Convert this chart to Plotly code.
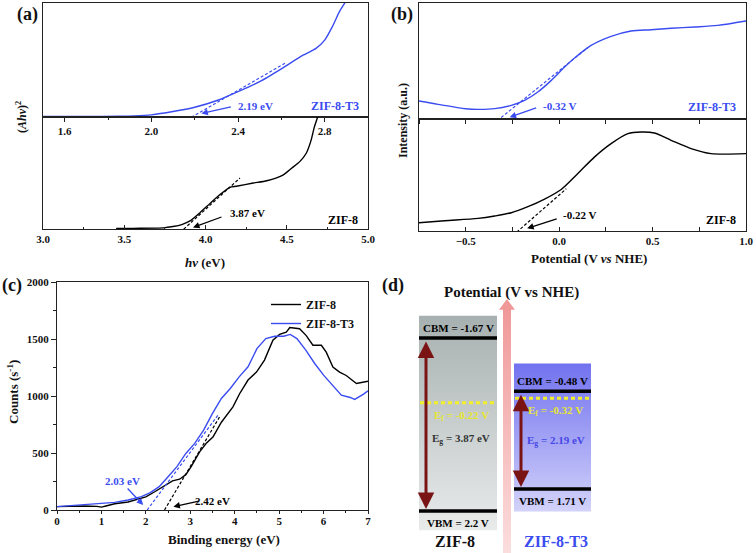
import plotly.graph_objects as go

# ---------------- data ----------------
# (a) Tauc plots (normalised (Ahv)^2)
a_t3_hv = [1.50, 1.70, 1.85, 1.92, 2.00, 2.10, 2.20, 2.31, 2.40, 2.50, 2.60, 2.70, 2.76, 2.80, 2.835, 2.87, 2.91]
a_t3_val = [0.0, 0.0, 0.003, 0.006, 0.015, 0.044, 0.082, 0.146, 0.219, 0.307, 0.42, 0.54, 0.60, 0.673, 0.79, 0.93, 1.05]
a_z8_hv = [3.45, 3.556, 3.74, 3.80, 3.854, 3.905, 3.966, 4.028, 4.089, 4.151, 4.19, 4.294, 4.377, 4.479, 4.53, 4.58, 4.62, 4.65, 4.67, 4.69, 4.70]
a_z8_val = [0.0, 0.002, 0.006, 0.018, 0.036, 0.068, 0.142, 0.225, 0.305, 0.37, 0.379, 0.408, 0.429, 0.482, 0.541, 0.6, 0.675, 0.793, 0.911, 1.0, 1.05]
a_t3_eg, a_t3_slope, a_t3_span = 2.19, 1.1, [2.165, 2.62]
a_z8_eg, a_z8_slope, a_z8_span = 3.87, 1.325, [3.843, 4.212]

# (b) Mott-Schottky-like curves (normalised intensity)
b_t3_v = [-0.752, -0.648, -0.5, -0.434, -0.345, -0.256, -0.185, -0.114, -0.042, 0.029, 0.100, 0.171, 0.278, 0.385, 0.492, 0.599, 0.724, 0.849, 1.0]
b_t3_val = [0.155, 0.126, 0.089, 0.083, 0.089, 0.118, 0.161, 0.233, 0.333, 0.448, 0.549, 0.635, 0.713, 0.759, 0.770, 0.782, 0.793, 0.807, 0.845]
b_z8_v = [-0.752, -0.613, -0.434, -0.345, -0.256, -0.167, -0.078, 0.011, 0.100, 0.190, 0.278, 0.368, 0.439, 0.510, 0.599, 0.706, 0.813, 1.0]
b_z8_val = [0.074, 0.092, 0.113, 0.134, 0.163, 0.217, 0.285, 0.371, 0.513, 0.662, 0.780, 0.869, 0.884, 0.875, 0.810, 0.736, 0.691, 0.691]
b_t3_ef, b_t3_slope, b_t3_span = -0.32, 1.30, [-0.331, 0.154]
b_z8_ef, b_z8_slope, b_z8_span = -0.22, 1.46, [-0.247, 0.038]

# (c) VB-XPS
c_z8_be = [0, 0.3, 0.6, 0.9, 1.0, 1.1, 1.3, 1.6, 1.8, 2.0, 2.2, 2.46, 2.6, 2.76, 2.9, 3.02, 3.21, 3.36, 3.51, 3.7, 3.96, 4.11, 4.3, 4.49, 4.67, 4.86, 5.01, 5.16, 5.24, 5.46, 5.61, 5.76, 5.95, 6.06, 6.21, 6.36, 6.51, 6.74, 6.89, 7.0]
c_z8_cnt = [30, 33, 35, 32, 25, 35, 55, 70, 90, 115, 160, 220, 255, 270, 310, 380, 510, 585, 640, 770, 905, 1020, 1140, 1210, 1315, 1490, 1540, 1560, 1600, 1590, 1530, 1445, 1445, 1385, 1255, 1210, 1180, 1110, 1125, 1130]
c_t3_be = [0, 0.5, 1.0, 1.3, 1.6, 1.9, 2.1, 2.3, 2.5, 2.7, 2.9, 3.1, 3.3, 3.5, 3.7, 3.9, 4.1, 4.3, 4.5, 4.7, 4.9, 5.1, 5.25, 5.4, 5.6, 5.8, 6.0, 6.2, 6.4, 6.6, 6.7, 6.9, 7.0]
c_t3_cnt = [30, 45, 58, 67, 88, 117, 152, 205, 292, 380, 496, 584, 700, 847, 978, 1066, 1168, 1256, 1416, 1504, 1524, 1524, 1540, 1504, 1402, 1285, 1183, 1095, 1007, 987, 970, 1016, 1045]
c_t3_onset, c_t3_slope, c_t3_span = 2.03, 522, [2.03, 3.62]
c_z8_onset, c_z8_slope, c_z8_span = 2.42, 659, [2.42, 3.66]

# (d) band structure (V vs NHE)
d_names = ["ZIF-8", "ZIF-8-T3"]
d_cbm = [-1.67, -0.48]
d_vbm = [2.2, 1.71]
d_ef = [-0.22, -0.32]
d_eg = [3.87, 2.19]

BLUE = "#3a4cf0"
FONT = "Liberation Serif"
W, H = 756, 553


def px(x):
    return x / W


def py(y):
    return 1 - y / H


def line_fit(x0, slope, span):
    return span, [slope * (s - x0) for s in span]


def ptext(x, y, text, size, angle=0, color="#111111"):
    return dict(x=px(x), y=py(y), xref="paper", yref="paper", xanchor="center", yanchor="middle",
                showarrow=False, textangle=angle, text=text, font=dict(size=size, color=color))


fig = go.Figure()

# (a)
fig.add_trace(go.Scatter(x=a_t3_hv, y=a_t3_val, mode="lines", line=dict(color=BLUE, width=1.4, shape="spline", smoothing=0.6),
                         xaxis="x", yaxis="y", showlegend=False))
fx, fy = line_fit(a_t3_eg, a_t3_slope, a_t3_span)
fig.add_trace(go.Scatter(x=fx, y=fy, mode="lines", line=dict(color=BLUE, width=1.2, dash="3px,2px"), xaxis="x", yaxis="y", showlegend=False))
fig.add_trace(go.Scatter(x=a_z8_hv, y=a_z8_val, mode="lines", line=dict(color="black", width=1.4, shape="spline", smoothing=0.6),
                         xaxis="x2", yaxis="y2", showlegend=False))
fx, fy = line_fit(a_z8_eg, a_z8_slope, a_z8_span)
fig.add_trace(go.Scatter(x=fx, y=fy, mode="lines", line=dict(color="black", width=1.2, dash="3px,2px"), xaxis="x2", yaxis="y2", showlegend=False))

# (b)
fig.add_trace(go.Scatter(x=b_t3_v, y=b_t3_val, mode="lines", line=dict(color=BLUE, width=1.4, shape="spline", smoothing=0.8),
                         xaxis="x3", yaxis="y3", showlegend=False))
fx, fy = line_fit(b_t3_ef, b_t3_slope, b_t3_span)
fig.add_trace(go.Scatter(x=fx, y=fy, mode="lines", line=dict(color=BLUE, width=1.2, dash="3px,2px"), xaxis="x3", yaxis="y3", showlegend=False))
fig.add_trace(go.Scatter(x=b_z8_v, y=b_z8_val, mode="lines", line=dict(color="black", width=1.4, shape="spline", smoothing=0.8),
                         xaxis="x4", yaxis="y4", showlegend=False))
fx, fy = line_fit(b_z8_ef, b_z8_slope, b_z8_span)
fig.add_trace(go.Scatter(x=fx, y=fy, mode="lines", line=dict(color="black", width=1.2, dash="3px,2px"), xaxis="x4", yaxis="y4", showlegend=False))

# (c)
fig.add_trace(go.Scatter(x=c_z8_be, y=c_z8_cnt, mode="lines", name="ZIF-8", line=dict(color="black", width=1.4),
                         xaxis="x5", yaxis="y5"))
fig.add_trace(go.Scatter(x=c_t3_be, y=c_t3_cnt, mode="lines", name="ZIF-8-T3", line=dict(color=BLUE, width=1.4),
                         xaxis="x5", yaxis="y5"))
fx, fy = line_fit(c_t3_onset, c_t3_slope, c_t3_span)
fig.add_trace(go.Scatter(x=fx, y=fy, mode="lines", line=dict(color=BLUE, width=1.2, dash="3px,2px"), xaxis="x5", yaxis="y5", showlegend=False))
fx, fy = line_fit(c_z8_onset, c_z8_slope, c_z8_span)
fig.add_trace(go.Scatter(x=fx, y=fy, mode="lines", line=dict(color="black", width=1.2, dash="3px,2px"), xaxis="x5", yaxis="y5", showlegend=False))

# (d) band diagram
box_x = [[419, 497], [514, 591]]
box_cols = [["#a7b0b0", "#e9ebeb"], ["#7272ef", "#d2d2fa"]]
pad_top, pad_bot = [0.5, 0.62], [0.43, 0.5]
for i in range(2):
    x0, x1 = box_x[i]
    t, b = d_cbm[i] - pad_top[i], d_vbm[i] + pad_bot[i]
    fig.add_trace(go.Scatter(x=[x0, x1, x1, x0, x0], y=[t, t, b, b, t], mode="lines", line=dict(width=0),
                             fill="toself", fillgradient=dict(type="vertical", start=t, stop=b,
                                                              colorscale=[[0, box_cols[i][0]], [1, box_cols[i][1]]]),
                             xaxis="x6", yaxis="y6", showlegend=False, hoverinfo="skip"))

# pink potential arrow
ar_tip, ar_base, ar_end = -2.54, -2.30, 3.2
fig.add_trace(go.Scatter(x=[507, 515, 511, 511, 503, 503, 499, 507], y=[ar_tip, ar_base, ar_base, ar_end, ar_end, ar_base, ar_base, ar_tip],
                         mode="lines", line=dict(width=0), fill="toself",
                         fillgradient=dict(type="vertical", start=ar_tip, stop=ar_end,
                                           colorscale=[[0, "#f09696"], [1, "#fbdede"]]),
                         xaxis="x6", yaxis="y6", showlegend=False, hoverinfo="skip"))

shapes = []
annos = []
for i in range(2):
    x0, x1 = box_x[i]
    for v in (d_cbm[i], d_vbm[i]):
        shapes.append(dict(type="line", xref="x6", yref="y6", x0=x0, x1=x1, y0=v, y1=v, line=dict(color="black", width=3.5)))
    shapes.append(dict(type="line", xref="x6", yref="y6", x0=x0 + 1, x1=x1, y0=d_ef[i], y1=d_ef[i],
                       line=dict(color="#f2f02a", width=3, dash="4px,3px")))
    ax_x = x0 + 7
    annos.append(dict(x=ax_x, y=d_vbm[i], ax=ax_x, ay=d_cbm[i], xref="x6", yref="y6", axref="x6", ayref="y6",
                      showarrow=True, arrowside="end+start", arrowhead=2, arrowsize=1.1, arrowwidth=3,
                      arrowcolor="#7a1414", text="", standoff=2, startstandoff=2))
    cx = (x0 + x1) / 2
    annos.append(dict(x=cx, y=d_cbm[i], xref="x6", yref="y6", yshift=10, showarrow=False,
                      text=f"CBM = {d_cbm[i]:.2f} V", font=dict(size=11, color="black")))
    annos.append(dict(x=cx, y=d_vbm[i], xref="x6", yref="y6", yshift=-12, showarrow=False,
                      text=f"VBM = {d_vbm[i]:g} V", font=dict(size=11, color="black")))
    annos.append(dict(x=cx + 3, y=d_ef[i], xref="x6", yref="y6", yshift=-13, showarrow=False,
                      text=f"E<sub>f</sub> = {d_ef[i]:.2f} V", font=dict(size=11, color="#e6e630")))
    annos.append(dict(x=cx + 3, y=d_ef[i], xref="x6", yref="y6", yshift=-36 if i == 0 else -43, showarrow=False,
                      text=f"E<sub>g</sub> = {d_eg[i]:.2f} eV", font=dict(size=11, color="#333333" if i == 0 else "#4646e6")))
    annos.append(dict(x=cx - 3 if i == 0 else cx + 3, y=d_vbm[0], xref="x6", yref="y6", yshift=-31, showarrow=False,
                      text=d_names[i], font=dict(size=16, color="#111111" if i == 0 else BLUE)))

annos.append(ptext(511, 292, "Potential (V vs NHE)", 15))

# panel labels
for lab, x, y in [("(a)", 27, 14), ("(b)", 402, 14), ("(c)", 12, 285), ("(d)", 393, 285)]:
    annos.append(ptext(x, y, lab, 18))

# axis titles
annos += [
    ptext(22, 117, "(<i>Ahν</i>)<sup>2</sup>", 12, angle=-90),
    ptext(205, 262, "<i>hν</i> (eV)", 13),
    ptext(403, 120, "Intensity (a.u.)", 12, angle=-90),
    ptext(589, 258, "Potential (V <i>vs</i> NHE)", 13),
    ptext(13, 392, "Counts (s<sup>-1</sup>)", 13, angle=-90),
    ptext(224, 539, "Binding energy (eV)", 13),
]

# in-plot labels and arrows
annos += [
    dict(x=2.392, y=0.096, xref="x", yref="y", xanchor="left", showarrow=False, text=f"{a_t3_eg} eV", font=dict(size=11, color=BLUE)),
    dict(x=2.967, y=0.096, xref="x", yref="y", xanchor="right", showarrow=False, text="ZIF-8-T3", font=dict(size=12, color=BLUE)),
    dict(x=2.231, y=0.026, xref="x", yref="y", ax=31, ay=-7, showarrow=True, arrowhead=2, arrowsize=1, arrowwidth=1.3, arrowcolor=BLUE, text=""),
    dict(x=4.138, y=0.143, xref="x2", yref="y2", xanchor="left", showarrow=False, text=f"{a_z8_eg} eV", font=dict(size=11, color="black")),
    dict(x=4.95, y=0.08, xref="x2", yref="y2", xanchor="right", showarrow=False, text="ZIF-8", font=dict(size=12, color="black")),
    dict(x=3.923, y=0.01, xref="x2", yref="y2", ax=30, ay=-11, showarrow=True, arrowhead=2, arrowsize=1, arrowwidth=1.3, arrowcolor="black", text=""),
    dict(x=-0.098, y=0.112, xref="x3", yref="y3", xanchor="left", showarrow=False, text=f"{b_t3_ef} V", font=dict(size=11, color=BLUE)),
    dict(x=0.956, y=0.103, xref="x3", yref="y3", xanchor="right", showarrow=False, text="ZIF-8-T3", font=dict(size=12, color=BLUE)),
    dict(x=-0.265, y=0.015, xref="x3", yref="y3", ax=28, ay=-10, showarrow=True, arrowhead=2, arrowsize=1, arrowwidth=1.3, arrowcolor=BLUE, text=""),
    dict(x=0.009, y=0.143, xref="x4", yref="y4", xanchor="left", showarrow=False, text=f"{b_z8_ef} V", font=dict(size=11, color="black")),
    dict(x=0.956, y=0.098, xref="x4", yref="y4", xanchor="right", showarrow=False, text="ZIF-8", font=dict(size=12, color="black")),
    dict(x=-0.171, y=0.024, xref="x4", yref="y4", ax=31, ay=-10, showarrow=True, arrowhead=2, arrowsize=1, arrowwidth=1.3, arrowcolor="black", text=""),
    dict(x=1.485, y=254, xref="x5", yref="y5", showarrow=False, text=f"{c_t3_onset} eV", font=dict(size=11, color=BLUE)),
    dict(x=1.94, y=44, xref="x5", yref="y5", ax=-17, ay=-18, showarrow=True, arrowhead=2, arrowsize=1, arrowwidth=1.3, arrowcolor=BLUE, text=""),
    dict(x=3.05, y=79, xref="x5", yref="y5", xanchor="left", showarrow=False, text=f"{c_z8_onset} eV", font=dict(size=11, color="black")),
    dict(x=2.62, y=29, xref="x5", yref="y5", ax=27, ay=-6, showarrow=True, arrowhead=2, arrowsize=1, arrowwidth=1.3, arrowcolor="black", text=""),
]

ax_common = dict(showline=True, linecolor="#222222", linewidth=1.2, mirror=True, showgrid=False, zeroline=False, automargin=False,
                 tickcolor="#222222", tickwidth=1.1, tickfont=dict(family=FONT, size=11, color="#111111", weight="bold"))

layout = dict(
    width=W, height=H, margin=dict(l=0, r=0, t=0, b=0, pad=0, autoexpand=False), paper_bgcolor="white", plot_bgcolor="rgba(0,0,0,0)",
    font=dict(family=FONT, size=11, color="#111111", weight="bold"),
    xaxis=dict(ax_common, domain=[px(43), px(368)], anchor="y", range=[1.5, 3.0], tickmode="linear", tick0=1.6, dtick=0.4,
               tickformat=".1f", ticks="outside", ticklen=4, minor=dict(ticks="outside", ticklen=2, tick0=1.6, dtick=0.2)),
    yaxis=dict(ax_common, domain=[py(117), py(3)], anchor="x", range=[-0.004, 1.0], showticklabels=False, ticks=""),
    xaxis2=dict(ax_common, domain=[px(43), px(368)], anchor="y2", range=[3.0, 5.0], tickmode="linear", tick0=3.0, dtick=0.5,
                tickformat=".1f", ticks="inside", ticklen=4, minor=dict(ticks="inside", ticklen=2, tick0=3.0, dtick=0.25)),
    yaxis2=dict(ax_common, domain=[py(229), py(117)], anchor="x2", range=[-0.004, 1.0], showticklabels=False, ticks=""),
    xaxis3=dict(ax_common, domain=[px(419), px(746)], anchor="y3", range=[-0.75, 1.0], tickmode="linear", tick0=0, dtick=0.25,
                showticklabels=False, ticks="outside", ticklen=4),
    yaxis3=dict(ax_common, domain=[py(119), py(3)], anchor="x3", range=[0, 1.0], showticklabels=False, ticks=""),
    xaxis4=dict(ax_common, domain=[px(419), px(746)], anchor="y4", range=[-0.75, 1.0], tickmode="linear", tick0=0, dtick=0.5,
                tickformat=".1f", ticks="inside", ticklen=4, minor=dict(ticks="inside", ticklen=4, tick0=0, dtick=0.25)),
    yaxis4=dict(ax_common, domain=[py(231), py(119)], anchor="x4", range=[0, 1.0], showticklabels=False, ticks=""),
    xaxis5=dict(ax_common, domain=[px(57), px(368)], anchor="y5", range=[0, 7], tickmode="linear", tick0=0, dtick=1,
                ticks="outside", ticklen=3, ticklabelstandoff=-2, minor=dict(ticks="outside", ticklen=2, tick0=0, dtick=0.5)),
    yaxis5=dict(ax_common, domain=[py(510), py(282)], anchor="x5", range=[0, 2000], tickmode="linear", tick0=0, dtick=500,
                ticks="outside", ticklen=5, minor=dict(ticks="outside", ticklen=3, tick0=0, dtick=250)),
    xaxis6=dict(domain=[px(380), 1], anchor="y6", range=[380, 756], visible=False, automargin=False),
    yaxis6=dict(domain=[0, py(282)], anchor="x6", range=[3.14, -2.923], visible=False, automargin=False),
    legend=dict(x=px(266), y=py(290), xanchor="left", yanchor="top", bgcolor="rgba(0,0,0,0)",
                font=dict(family=FONT, size=12, color="#111111", weight="bold"), tracegroupgap=0, itemwidth=30),
    shapes=shapes,
    annotations=annos,
)

fig.update_layout(layout)
fig.write_html("out.html", config={"displayModeBar": False},
               post_script="document.body.style.margin='0px';document.body.style.padding='0px';")
